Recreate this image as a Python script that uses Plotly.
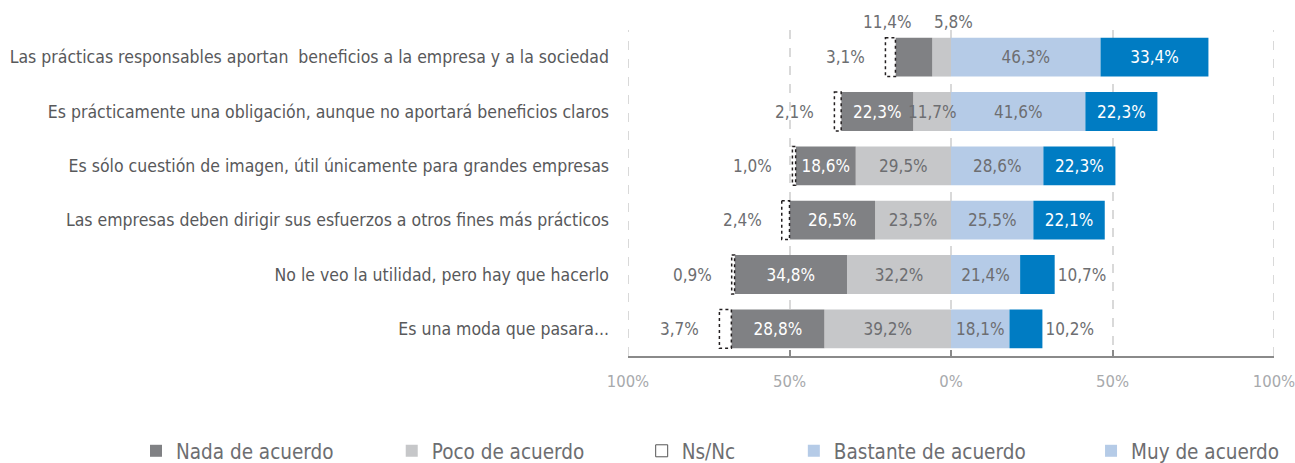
import plotly.graph_objects as go

categories = [
    "Las prácticas responsables aportan  beneficios a la empresa y a la sociedad",
    "Es prácticamente una obligación, aunque no aportará beneficios claros",
    "Es sólo cuestión de imagen, útil únicamente para grandes empresas",
    "Las empresas deben dirigir sus esfuerzos a otros fines más prácticos",
    "No le veo la utilidad, pero hay que hacerlo",
    "Es una moda que pasara...",
]
nada = [11.4, 22.3, 18.6, 26.5, 34.8, 28.8]
poco = [5.8, 11.7, 29.5, 23.5, 32.2, 39.2]
nsnc = [3.1, 2.1, 1.0, 2.4, 0.9, 3.7]
bastante = [46.3, 41.6, 28.6, 25.5, 21.4, 18.1]
muy = [33.4, 22.3, 22.3, 22.1, 10.7, 10.2]
tick_vals = [-100, -50, 0, 50, 100]
tick_text = ["100%", "50%", "0%", "50%", "100%"]
legend_names = ["Nada de acuerdo", "Poco de acuerdo", "Ns/Nc", "Bastante de acuerdo", "Muy de acuerdo"]

FONT = "DejaVu Sans Condensed, Liberation Sans Narrow, sans-serif"
C_NADA = "#808184"
C_POCO = "#c6c7c9"
C_BAST = "#b5cbe7"
C_MUY = "#007cc3"
TXT = "#6d6e71"
GRID = "#d9d9d9"
BAR_W = 0.714
LBL = 17


def fmt(v):
    return f"{v:.1f}".replace(".", ",") + "%"


fig = go.Figure()

# Poco (negative, closest to zero); narrow segments get an annotation instead
poco_pos = ["none" if (i == 0 or v < 13) else "inside" for i, v in enumerate(poco)]
fig.add_trace(go.Bar(
    y=categories, x=[-v for v in poco], orientation="h", name="Poco de acuerdo",
    marker=dict(color=C_POCO, line=dict(width=0)), width=BAR_W,
    text=[fmt(v) for v in poco], textposition=poco_pos, textangle=0,
    insidetextanchor="middle", constraintext="none",
    insidetextfont=dict(family=FONT, size=LBL, color=TXT), showlegend=False,
))
nada_pos = ["none" if i == 0 else "inside" for i in range(len(nada))]
fig.add_trace(go.Bar(
    y=categories, x=[-v for v in nada], orientation="h", name="Nada de acuerdo",
    marker=dict(color=C_NADA, line=dict(width=0)), width=BAR_W,
    text=[fmt(v) for v in nada], textposition=nada_pos, textangle=0,
    insidetextanchor="middle", constraintext="none",
    insidetextfont=dict(family=FONT, size=LBL, color="white"), showlegend=False,
))
fig.add_trace(go.Bar(
    y=categories, x=[-v for v in nsnc], orientation="h", name="Ns/Nc",
    marker=dict(color="white", line=dict(width=0)), width=BAR_W,
    textposition="none", showlegend=False,
))
fig.add_trace(go.Bar(
    y=categories, x=bastante, orientation="h", name="Bastante de acuerdo",
    marker=dict(color=C_BAST, line=dict(width=0)), width=BAR_W,
    text=[fmt(v) for v in bastante], textposition="inside", textangle=0,
    insidetextanchor="middle", constraintext="none",
    insidetextfont=dict(family=FONT, size=LBL, color=TXT), showlegend=False,
))
muy_pos = ["outside" if v < 15 else "inside" for v in muy]
fig.add_trace(go.Bar(
    y=categories, x=muy, orientation="h", name="Muy de acuerdo",
    marker=dict(color=C_MUY, line=dict(width=0)), width=BAR_W,
    text=[fmt(v) for v in muy], textposition=muy_pos, textangle=0,
    insidetextanchor="middle", constraintext="none", cliponaxis=False,
    insidetextfont=dict(family=FONT, size=LBL, color="white"),
    outsidetextfont=dict(family=FONT, size=LBL, color=TXT), showlegend=False,
))

shapes = []
# dashed gridlines at the range edges (plotly omits them there)
for v in (tick_vals[0], tick_vals[-1]):
    shapes.append(dict(type="line", xref="x", yref="paper", x0=v, x1=v, y0=0, y1=1,
                       line=dict(color=GRID, width=2, dash="dash"), layer="below"))
# dotted outlines for Ns/Nc segments
for i in range(len(categories)):
    left = -(nada[i] + poco[i] + nsnc[i])
    right = -(nada[i] + poco[i])
    shapes.append(dict(type="rect", xref="x", yref="y", x0=left, x1=right,
                       y0=i - BAR_W / 2, y1=i + BAR_W / 2,
                       line=dict(color="#231f20", width=1.5, dash="dot"),
                       fillcolor="rgba(0,0,0,0)", layer="above"))

annotations = []
for i in range(len(categories)):
    left = -(nada[i] + poco[i] + nsnc[i])
    annotations.append(dict(x=left, y=categories[i], xref="x", yref="y",
                            text=fmt(nsnc[i]), showarrow=False, xanchor="right",
                            xshift=-18, font=dict(family=FONT, size=LBL, color=TXT)))
    if i > 0 and poco[i] < 13:
        annotations.append(dict(x=-poco[i] / 2, y=categories[i], xref="x", yref="y",
                                text=fmt(poco[i]), showarrow=False, xanchor="center",
                                font=dict(family=FONT, size=LBL, color=TXT)))
# first row: Nada and Poco labels above the bar
annotations.append(dict(x=-(poco[0] + nada[0] / 2), y=categories[0], xref="x", yref="y",
                        text=fmt(nada[0]), showarrow=False, xanchor="right", yshift=35,
                        font=dict(family=FONT, size=LBL, color=TXT)))
annotations.append(dict(x=-poco[0], y=categories[0], xref="x", yref="y",
                        text=fmt(poco[0]), showarrow=False, xanchor="left", yshift=35,
                        font=dict(family=FONT, size=LBL, color=TXT)))

# legend entries (each in its own legend for positioning)
legend_colors = [C_NADA, C_POCO, None, C_BAST, C_BAST]
legend_x = [0.105, 0.3025, 0.4955, 0.613, 0.8425]
legend_ids = ["legend", "legend2", "legend3", "legend4", "legend5"]
for name, col, lid in zip(legend_names, legend_colors, legend_ids):
    if col is None:
        marker = dict(symbol="square-open", size=12, color="#555555", line=dict(width=1))
    else:
        marker = dict(symbol="square", size=12, color=col, line=dict(width=0))
    fig.add_trace(go.Scatter(x=[None], y=[None], mode="markers", name=name,
                             marker=marker, showlegend=True, legend=lid, hoverinfo="skip"))

layout_legends = {}
for lid, lx in zip(legend_ids, legend_x):
    layout_legends[lid] = dict(x=lx, y=0.026, xref="container", yref="container",
                               xanchor="left", yanchor="middle", orientation="h",
                               font=dict(family=FONT, size=20.5, color=TXT),
                               bgcolor="rgba(0,0,0,0)")

fig.update_layout(
    width=1295, height=463,
    barmode="relative", bargap=0.28,
    paper_bgcolor="white", plot_bgcolor="white",
    margin=dict(l=628, r=21, t=30, b=107, autoexpand=False),
    font=dict(family=FONT, color=TXT),
    separators=",.",
    shapes=shapes, annotations=annotations,
    **layout_legends,
)
fig.update_xaxes(
    range=[-100, 100], tickvals=tick_vals, ticktext=tick_text,
    showgrid=True, gridcolor=GRID, gridwidth=2, griddash="dash",
    zeroline=False, showline=True, linecolor="#8a8a8a", linewidth=2,
    ticks="inside", ticklen=6, tickcolor="#8a8a8a", tickwidth=2,
    tickfont=dict(family=FONT, size=16.5, color="#a7a9ac"), ticklabelstandoff=9,
    ticklabeloverflow="allow", fixedrange=True, automargin=False,
)
fig.update_yaxes(
    categoryorder="array", categoryarray=categories, autorange="reversed",
    showgrid=False, zeroline=False, showline=False, ticks="",
    tickfont=dict(family=FONT, size=17.5, color="#58595b"), ticklabelstandoff=18,
    automargin=False,
)

fig.write_html(
    "out.html",
    config={"displayModeBar": False},
    post_script=(
        "document.documentElement.style.overflow='hidden';"
        "document.body.style.margin='0';"
        "document.body.style.overflow='hidden';"
    ),
)
